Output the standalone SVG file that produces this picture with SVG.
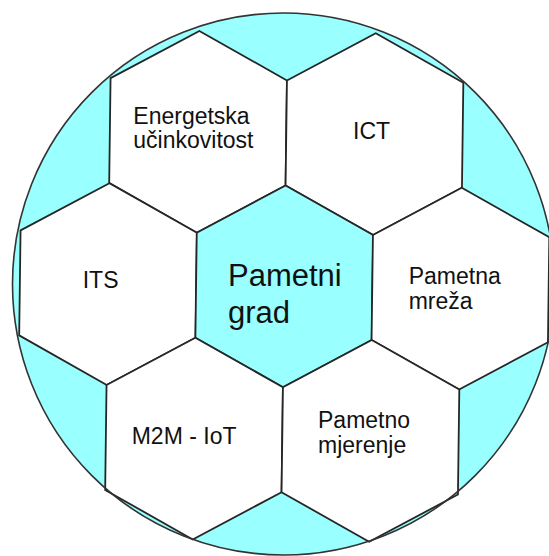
<svg xmlns="http://www.w3.org/2000/svg" xmlns:xlink="http://www.w3.org/1999/xlink" width="549" height="556" viewBox="0 0 549 556">
  <style>
    .hex { stroke: #262626; stroke-width: 1.8; stroke-linejoin: miter; }
    .white { fill: #ffffff; }
    .cyan { fill: #99ffff; }
    .lbl { font-family: "Liberation Sans", Arial, sans-serif; font-size: 23px; fill: #111111; }
    .big { font-family: "Liberation Sans", Arial, sans-serif; font-size: 31px; fill: #111111; }
  </style>
  <defs>
    <polygon id="hex" points="0,-100.9 88.2,-52.5 88.2,52.5 0,100.9 -88.2,52.5 -88.2,-52.5"/>
  </defs>
  <rect width="549" height="556" fill="#ffffff"/>
  <g id="ball">
    <circle cx="283.5" cy="284" r="271" fill="#99ffff"/>
  </g>
  <g id="connectors"></g>
  <g id="node-energetska">
    <use xlink:href="#hex" class="hex white" transform="rotate(0.75 284.25 286.35) translate(196.05 132.95)"/>
    <text class="lbl" x="133.3" y="123.5">Energetska</text>
    <text class="lbl" x="133.3" y="148">učinkovitost</text>
  </g>
  <g id="node-ict">
    <use xlink:href="#hex" class="hex white" transform="rotate(0.75 284.25 286.35) translate(372.45 132.95)"/>
    <text class="lbl" x="353" y="139.3">ICT</text>
  </g>
  <g id="node-its">
    <use xlink:href="#hex" class="hex white" transform="rotate(0.75 284.25 286.35) translate(108.05 286.35)"/>
    <text class="lbl" x="82.7" y="287.7">ITS</text>
  </g>
  <g id="node-pametni-grad">
    <use xlink:href="#hex" class="hex cyan" transform="rotate(0.75 284.25 286.35) translate(284.25 286.35)"/>
    <text class="big" x="228" y="286">Pametni</text>
    <text class="big" x="228" y="323.3">grad</text>
  </g>
  <g id="node-pametna-mreza">
    <use xlink:href="#hex" class="hex white" transform="rotate(0.75 284.25 286.35) translate(460.45 286.35)"/>
    <text class="lbl" x="408.7" y="284.3">Pametna</text>
    <text class="lbl" x="408.7" y="309.3">mreža</text>
  </g>
  <g id="node-m2m-iot">
    <use xlink:href="#hex" class="hex white" transform="rotate(0.75 284.25 286.35) translate(196.05 439.75)"/>
    <text class="lbl" x="131.7" y="444">M2M - IoT</text>
  </g>
  <g id="node-pametno-mjerenje">
    <use xlink:href="#hex" class="hex white" transform="rotate(0.75 284.25 286.35) translate(372.45 439.75)"/>
    <text class="lbl" x="318" y="428.3">Pametno</text>
    <text class="lbl" x="318" y="452.7">mjerenje</text>
  </g>
  <g id="ball-outline">
    <circle cx="283.5" cy="284" r="271" fill="none" stroke="#333333" stroke-width="1.6"/>
  </g>
</svg>
